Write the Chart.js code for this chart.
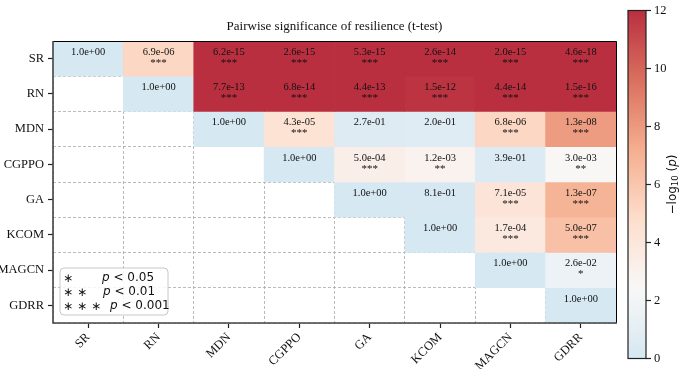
<!DOCTYPE html>
<html>
<head>
<meta charset="utf-8">
<script src="https://cdn.jsdelivr.net/npm/chart.js@4.4.1/dist/chart.umd.min.js"></script>
<style>
  html, body { margin: 0; padding: 0; background: #fff; }
  #wrap { position: relative; width: 685px; height: 369px; }
  #mainBox { position: absolute; left: 0; top: 0; width: 685px; height: 369px; }
  #cbarBox { position: absolute; left: 620px; top: 0; width: 65px; height: 369px; }
</style>
</head>
<body>
<div id="wrap">
  <div id="mainBox"><canvas id="heatmap"></canvas></div>
  <div id="cbarBox"><canvas id="colorbar"></canvas></div>
</div>
<script>
// Modelle (Zeilen und Spalten)
const models = ['SR', 'RN', 'MDN', 'CGPPO', 'GA', 'KCOM', 'MAGCN', 'GDRR'];

// p-Werte je Zeile (nur obere Dreiecksmatrix, null = leer)
const pSR    = [1.0, 6.9e-06, 6.2e-15, 2.6e-15, 5.3e-15, 2.6e-14, 2.0e-15, 4.6e-18];
const pRN    = [null, 1.0, 7.7e-13, 6.8e-14, 4.4e-13, 1.5e-12, 4.4e-14, 1.5e-16];
const pMDN   = [null, null, 1.0, 4.3e-05, 2.7e-01, 2.0e-01, 6.8e-06, 1.3e-08];
const pCGPPO = [null, null, null, 1.0, 5.0e-04, 1.2e-03, 3.9e-01, 3.0e-03];
const pGA    = [null, null, null, null, 1.0, 8.1e-01, 7.1e-05, 1.3e-07];
const pKCOM  = [null, null, null, null, null, 1.0, 1.7e-04, 5.0e-07];
const pMAGCN = [null, null, null, null, null, null, 1.0, 2.6e-02];
const pGDRR  = [null, null, null, null, null, null, null, 1.0];
const pRows = [pSR, pRN, pMDN, pCGPPO, pGA, pKCOM, pMAGCN, pGDRR];

// Farbskala (-log10 p)
const cbarMin = 0;
const cbarMax = 12;
const cbarTicks = [0, 2, 4, 6, 8, 10, 12];
const cmapStops = ['#d1e5f0', '#f7f7f7', '#fddbc7', '#f4a582', '#d6604d', '#b2182b'];
const cellAlpha = 0.9;

const serif = "'Liberation Serif', 'Times New Roman', serif";

function hexToRgb(h) {
    return [parseInt(h.slice(1, 3), 16), parseInt(h.slice(3, 5), 16), parseInt(h.slice(5, 7), 16)];
}

// Farbe fuer einen Wert der Skala, mit Alpha auf Weiss gemischt
function colorFor(v) {
    let t = (Math.min(Math.max(v, cbarMin), cbarMax) - cbarMin) / (cbarMax - cbarMin);
    const n = cmapStops.length - 1;
    let i = Math.min(Math.floor(t * n), n - 1);
    const f = t * n - i;
    const a = hexToRgb(cmapStops[i]);
    const b = hexToRgb(cmapStops[i + 1]);
    const rgb = a.map((x, k) => (x + (b[k] - x) * f) * cellAlpha + 255 * (1 - cellAlpha));
    return 'rgb(' + rgb.map(Math.round).join(',') + ')';
}

function fmtP(p) {
    const s = p.toExponential(1);
    const [m, e] = s.split('e');
    const sign = e[0];
    const digits = e.slice(1).padStart(2, '0');
    return m + 'e' + sign + digits;
}

function stars(p) {
    if (p < 0.001) return '***';
    if (p < 0.01) return '**';
    if (p < 0.05) return '*';
    return '';
}

const datasets = pRows.map((row, r) => ({
    label: models[r],
    data: row.map((p) => p === null ? null : [r, r + 1]),
    backgroundColor: row.map((p) => p === null ? 'rgba(0,0,0,0)' : colorFor(-Math.log10(p))),
    borderWidth: 0,
    barPercentage: 1,
    categoryPercentage: 1,
    grouped: false
}));

// Text in den Zellen
const cellText = {
    id: 'cellText',
    afterDatasetsDraw(chart) {
        const ctx = chart.ctx;
        const xs = chart.scales.x;
        const ys = chart.scales.y;
        ctx.save();
        ctx.fillStyle = '#111';
        ctx.textAlign = 'center';
        ctx.textBaseline = 'middle';
        pRows.forEach((row, r) => {
            row.forEach((p, c) => {
                if (p === null) return;
                const x = xs.getPixelForValue(c);
                const top = ys.getPixelForValue(r);
                ctx.font = '10.5px ' + serif;
                ctx.fillText(fmtP(p), x, top + 11);
                const s = stars(p);
                ctx.font = '11px ' + serif;
                if (s) ctx.fillText(s, x, top + 22);
            });
        });
        ctx.restore();
    }
};

// Rahmen und Legende fuer Signifikanz
const frameAndKey = {
    id: 'frameAndKey',
    afterDraw(chart) {
        const ctx = chart.ctx;
        const a = chart.chartArea;
        ctx.save();
        ctx.strokeStyle = '#000';
        ctx.lineWidth = 1;
        ctx.beginPath();
        ctx.moveTo(a.left, a.top + 0.5);
        ctx.lineTo(a.right + 0.5, a.top + 0.5);
        ctx.lineTo(a.right + 0.5, a.bottom);
        ctx.stroke();
        ctx.strokeStyle = '#444';
        ctx.lineWidth = 1.6;
        ctx.beginPath();
        ctx.moveTo(a.left, a.top);
        ctx.lineTo(a.left, a.bottom);
        ctx.lineTo(a.right + 1, a.bottom);
        ctx.stroke();

        // Legendenkasten
        const bx = a.left + 7, by = a.bottom - 55, bw = 108, bh = 47;
        ctx.beginPath();
        ctx.roundRect(bx, by, bw, bh, 4);
        ctx.fillStyle = 'rgba(255,255,255,0.85)';
        ctx.fill();
        ctx.strokeStyle = '#c8c8c8';
        ctx.lineWidth = 1;
        ctx.stroke();
        ctx.fillStyle = '#111';
        ctx.textBaseline = 'middle';
        const lines = [[1, 42, '0.05'], [2, 43, '0.01'], [3, 50, '0.001']];
        lines.forEach((ln, i) => {
            const y = by + 10 + i * 14;
            ctx.font = "12px 'DejaVu Sans'";
            ctx.textAlign = 'center';
            for (let k = 0; k < ln[0]; k++) {
                ctx.fillText('\u2217', bx + 8 + k * 14, y + 1);
            }
            ctx.textAlign = 'left';
            ctx.font = "italic 12px 'DejaVu Sans'";
            ctx.fillText('p', bx + ln[1], y);
            const pw = ctx.measureText('p').width;
            ctx.font = "12px 'DejaVu Sans'";
            ctx.fillText(' < ' + ln[2], bx + ln[1] + pw, y);
        });
        ctx.restore();
    }
};

new Chart(document.getElementById('heatmap'), {
    type: 'bar',
    data: { labels: models, datasets: datasets },
    plugins: [cellText, frameAndKey],
    options: {
        responsive: true,
        maintainAspectRatio: false,
        animation: false,
        events: [],
        layout: { padding: { left: 0, right: 69, top: 0, bottom: 0 } },
        plugins: {
            legend: { display: false },
            tooltip: { enabled: false },
            title: {
                display: true,
                fullSize: false,
                text: 'Pairwise significance of resilience (t-test)',
                color: '#111',
                font: { family: serif, size: 13, weight: 'normal' },
                padding: { top: 19, bottom: 6.4 }
            }
        },
        scales: {
            x: {
                type: 'category',
                position: 'bottom',
                z: 1,
                grid: { display: true, offset: true, color: '#aaaaaa', lineWidth: 0.8, tickLength: 0, drawTicks: false },
                border: { display: false, dash: [3, 2] },
                ticks: { display: false },
                afterFit(s) { s.height = 0; }
            },
            x2: {
                type: 'category',
                position: 'bottom',
                labels: models,
                offset: true,
                grid: { drawOnChartArea: false, offset: false, tickLength: 5, color: '#222', tickWidth: 1.2 },
                border: { display: false },
                ticks: {
                    color: '#111',
                    font: { family: serif, size: 12.5 },
                    minRotation: 45,
                    maxRotation: 45,
                    padding: 2
                },
                afterFit(s) { s.height = 46; }
            },
            y: {
                type: 'linear',
                min: 0,
                max: 8,
                reverse: true,
                z: 1,
                grid: { color: '#aaaaaa', lineWidth: 0.8, drawTicks: false },
                border: { display: false, dash: [3, 2] },
                ticks: { display: false, stepSize: 1 },
                afterFit(s) { s.width = 0; }
            },
            y2: {
                type: 'linear',
                position: 'left',
                min: 0,
                max: 8,
                reverse: true,
                grid: { drawOnChartArea: false, tickLength: 5, color: '#222', tickWidth: 1.2 },
                border: { display: false },
                afterBuildTicks(s) { s.ticks = models.map((m, i) => ({ value: i + 0.5 })); },
                ticks: {
                    color: '#111',
                    font: { family: serif, size: 12.5 },
                    padding: 4,
                    callback: (v) => models[Math.floor(v)]
                },
                afterFit(s) { s.width = 53; }
            }
        }
    }
});

// Farbleiste
const cbarFrame = {
    id: 'cbarFrame',
    afterDraw(chart) {
        const ctx = chart.ctx;
        const a = chart.chartArea;
        ctx.save();
        ctx.strokeStyle = '#222';
        ctx.lineWidth = 1.2;
        ctx.strokeRect(a.left, a.top, a.right - a.left, a.bottom - a.top);
        ctx.translate(53, (a.top + a.bottom) / 2);
        ctx.rotate(-Math.PI / 2);
        ctx.fillStyle = '#111';
        ctx.textBaseline = 'middle';
        const parts = [['\u2212log', "12px 'DejaVu Sans'", 0], ['10', "8.5px 'DejaVu Sans'", 3],
            [' (', "12px 'DejaVu Sans'", 0], ['p', "italic 12px 'DejaVu Sans'", 0], [')', "12px 'DejaVu Sans'", 0]];
        let total = 0;
        parts.forEach((pt) => { ctx.font = pt[1]; pt.push(ctx.measureText(pt[0]).width); total += pt[3]; });
        let x = -total / 2;
        ctx.textAlign = 'left';
        parts.forEach((pt) => {
            ctx.font = pt[1];
            ctx.fillText(pt[0], x, pt[2]);
            x += pt[3];
        });
        ctx.restore();
    }
};

new Chart(document.getElementById('colorbar'), {
    type: 'bar',
    data: {
        labels: [''],
        datasets: [{
            data: [[cbarMin, cbarMax]],
            borderWidth: 0,
            barPercentage: 1,
            categoryPercentage: 1,
            backgroundColor(c) {
                const chart = c.chart;
                if (!chart.chartArea) return null;
                const ys = chart.scales.y;
                const g = chart.ctx.createLinearGradient(0, ys.getPixelForValue(cbarMin), 0, ys.getPixelForValue(cbarMax));
                for (let i = 0; i <= 48; i++) {
                    const t = i / 48;
                    g.addColorStop(t, colorFor(cbarMin + t * (cbarMax - cbarMin)));
                }
                return g;
            }
        }]
    },
    plugins: [cbarFrame],
    options: {
        responsive: true,
        maintainAspectRatio: false,
        animation: false,
        events: [],
        layout: { padding: { left: 8, right: 0, top: 4, bottom: 10 } },
        plugins: { legend: { display: false }, tooltip: { enabled: false } },
        scales: {
            x: { display: false },
            y: {
                position: 'right',
                min: cbarMin,
                max: cbarMax,
                afterBuildTicks(s) { s.ticks = cbarTicks.map((v) => ({ value: v })); },
                grid: { drawOnChartArea: false, tickLength: 5, color: '#222', tickWidth: 1.2 },
                border: { display: false },
                ticks: { color: '#111', font: { family: serif, size: 12.5 }, padding: 3 },
                afterFit(s) { s.width = 39; }
            }
        }
    }
});
</script>
</body>
</html>
